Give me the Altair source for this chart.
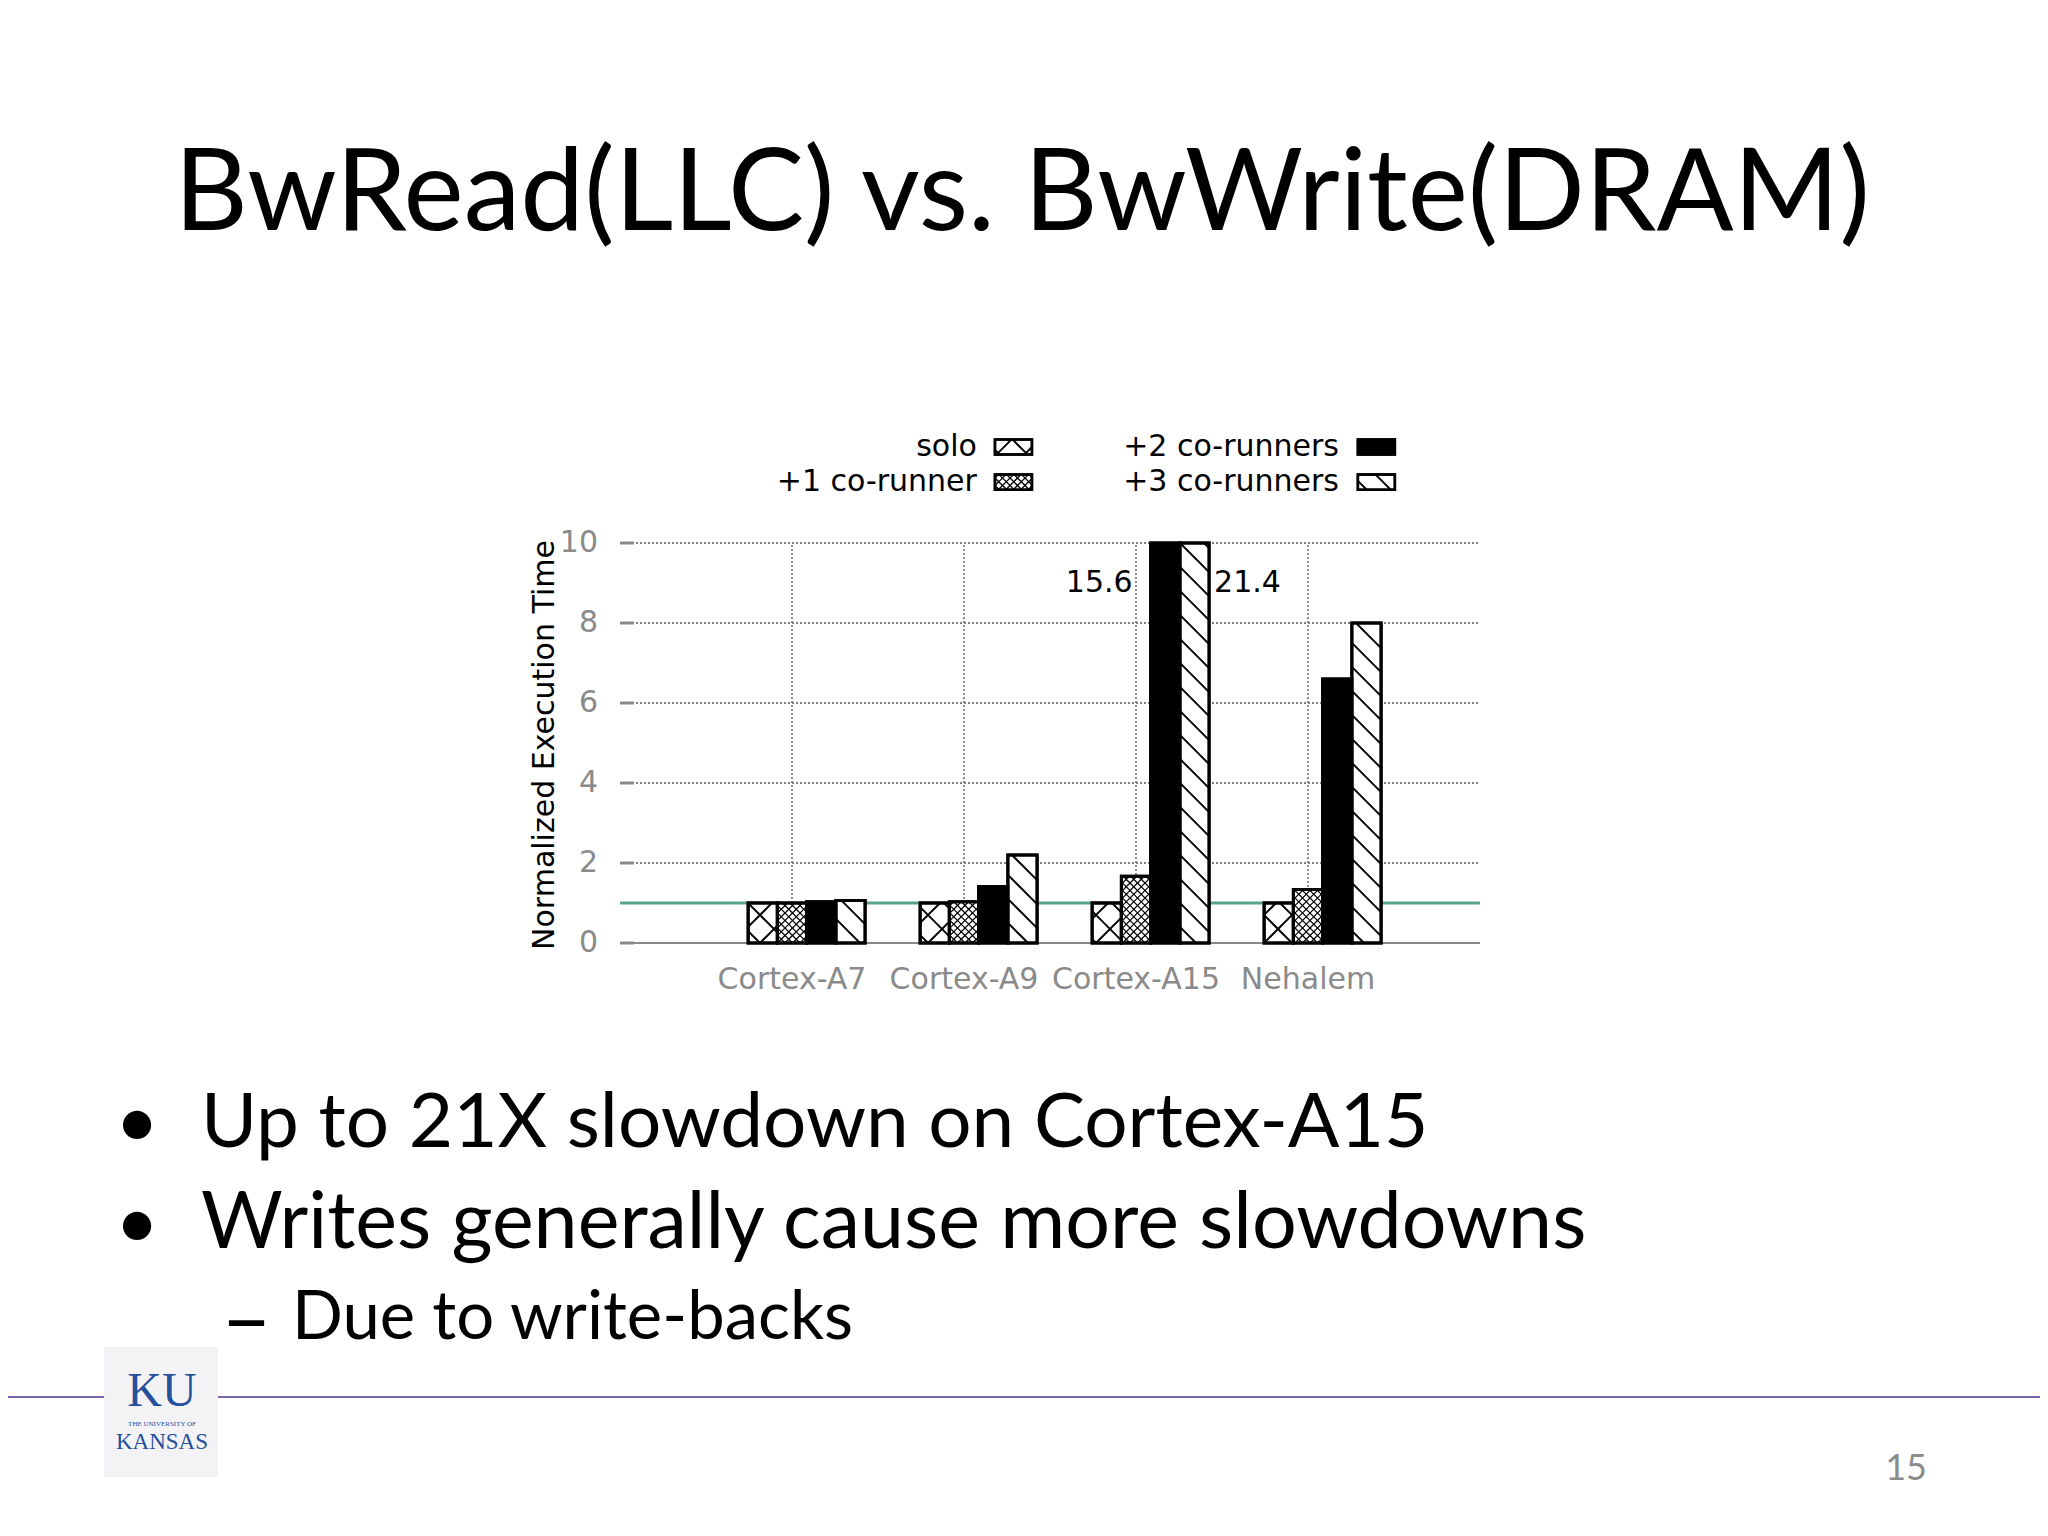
import math
import altair as alt
import pandas as pd

# ---------------- data ----------------
CATEGORIES = ["Cortex-A7", "Cortex-A9", "Cortex-A15", "Nehalem"]
SERIES = ["solo", "+1 co-runner", "+2 co-runners", "+3 co-runners"]
SOLO = [1.0, 1.0, 1.0, 1.0]
CO_RUNNER_1 = [1.0, 1.03, 1.67, 1.34]
CO_RUNNERS_2 = [1.03, 1.41, 15.6, 6.6]
CO_RUNNERS_3 = [1.06, 2.2, 21.4, 8.0]
Y_TICKS = [0, 2, 4, 6, 8, 10]
BASELINE = [1.0]
Y_TITLE = "Normalized Execution Time"

TITLE = "BwRead(LLC) vs. BwWrite(DRAM)"
BULLETS = ["Up to 21X slowdown on Cortex-A15", "Writes generally cause more slowdowns"]
SUB_BULLET = "Due to write-backs"
PAGE_NUMBER = "15"
LOGO_TOP = "KU"
LOGO_MID = "THE UNIVERSITY OF"
LOGO_BOTTOM = "KANSAS"

# ---------------- layout ----------------
W, H = 2032, 1505                 # whole canvas
PAD_L, PAD_T = 612, 535           # plot area origin inside the canvas
PLOT_W, PLOT_H = 860, 400
PAD_R = W - PAD_L - PLOT_W
PAD_B = H - PAD_T - PLOT_H
X_DOMAIN = [0, 5]
Y_DOMAIN = [0, 10]
PX_X = PLOT_W / (X_DOMAIN[1] - X_DOMAIN[0])
PX_Y = PLOT_H / (Y_DOMAIN[1] - Y_DOMAIN[0])
BAR_W = 0.17
FILLS = ["white", "white", "black", "white"]
# (slope, spacing px, line width)
PATTERNS = {
    "solo": [(1, 28, 2.0), (-1, 28, 2.0)],
    "+1 co-runner": [(1, 7.5, 1.3), (-1, 7.5, 1.3)],
    "+2 co-runners": [],
    "+3 co-runners": [(-1, 24, 2.0)],
}
CHART_FONT = "DejaVu Sans"
CHART_FS = 30
SLIDE_FONT = "Lato"
GRAY = "#8a8a8a"
GRID = "#808080"

XS = alt.Scale(domain=X_DOMAIN, nice=False, zero=False)
YS = alt.Scale(domain=Y_DOMAIN, nice=False, zero=False)


def hatch(xa, xb, ya, yb, specs, series):
    Xa, Xb = xa * PX_X, xb * PX_X
    Ya, Yb = ya * PX_Y, yb * PX_Y
    out = []
    for s, step, width in specs:
        if s == 1:
            cmin, cmax = Ya - Xb, Yb - Xa
        else:
            cmin, cmax = Ya + Xa, Yb + Xb
        for k in range(math.ceil(cmin / step), math.floor(cmax / step) + 1):
            c = k * step
            if s == 1:
                lo, hi = max(Xa, Ya - c), min(Xb, Yb - c)
            else:
                lo, hi = max(Xa, c - Yb), min(Xb, c - Ya)
            if hi - lo > 0.8:
                out.append(dict(x=lo / PX_X, y=(s * lo + c) / PX_Y,
                                x2=hi / PX_X, y2=(s * hi + c) / PX_Y,
                                w=width, series=series))
    return out


# bars
values = [SOLO, CO_RUNNER_1, CO_RUNNERS_2, CO_RUNNERS_3]
bar_rows, hatch_rows = [], []
for ci, cat in enumerate(CATEGORIES):
    pos = ci + 1
    for si, s in enumerate(SERIES):
        v = values[si][ci]
        x0 = pos + (si - 1.5) * BAR_W
        x1 = x0 + BAR_W
        top = min(v, Y_DOMAIN[1])
        bar_rows.append(dict(category=cat, series=s, value=v, x0=x0, x1=x1, y0=0.0, y1=top))
        hatch_rows += hatch(x0, x1, 0.0, top, PATTERNS[s], s)
bars = pd.DataFrame(bar_rows)
hatches = pd.DataFrame(hatch_rows)

# labels for clipped bars
clipped = bars[bars["value"] > Y_DOMAIN[1]].reset_index(drop=True)
LABEL_Y = 9.0
lab_left = clipped.iloc[[0]].assign(lx=lambda d: d["x0"], ly=LABEL_Y,
                                    txt=lambda d: d["value"].map(lambda v: f"{v:.1f}"))
lab_right = clipped.iloc[1:].assign(lx=lambda d: d["x1"], ly=LABEL_Y,
                                    txt=lambda d: d["value"].map(lambda v: f"{v:.1f}"))

# legend (above the plot, in data units of the same scales)
LEG_ROW_Y = [12.4, 11.52]
LEG_SW_X = [(2.18, 2.395), (4.29, 4.505)]
LEG_TXT_X = [2.075, 4.18]
LEG_SW_H = 0.38
leg_rows, leg_hatch = [], []
for i, s in enumerate(SERIES):
    col, row = i // 2, i % 2
    xa, xb = LEG_SW_X[col]
    yc = LEG_ROW_Y[row]
    ya, yb = yc - LEG_SW_H / 2, yc + LEG_SW_H / 2
    leg_rows.append(dict(series=s, x0=xa, x1=xb, y0=ya, y1=yb, tx=LEG_TXT_X[col], ty=yc))
    leg_hatch += hatch(xa, xb, ya, yb, PATTERNS[s], s)
legend = pd.DataFrame(leg_rows)
legend_hatch = pd.DataFrame(leg_hatch)

# axis pieces
positions = list(range(1, len(CATEGORIES) + 1))
hgrid = pd.DataFrame({"y": Y_TICKS[1:], "xa": X_DOMAIN[0], "xb": X_DOMAIN[1]})
vgrid = pd.DataFrame({"x": positions, "ya": Y_DOMAIN[0], "yb": Y_DOMAIN[1]})
yticks = pd.DataFrame({"y": Y_TICKS, "xa": X_DOMAIN[0], "xb": X_DOMAIN[0] + 0.08,
                       "lab": [str(t) for t in Y_TICKS]})
xlabels = pd.DataFrame({"x": positions, "y": Y_DOMAIN[0], "lab": CATEGORIES})
xdomain = pd.DataFrame({"y": [Y_DOMAIN[0]], "xa": [X_DOMAIN[0]], "xb": [X_DOMAIN[1]]})
base = pd.DataFrame({"y": BASELINE, "xa": X_DOMAIN[0], "xb": X_DOMAIN[1]})
ONE = pd.DataFrame({"k": [0]})


def X(f):
    return alt.X(f, scale=XS, axis=None)


def Y(f):
    return alt.Y(f, scale=YS, axis=None)


fill_enc = alt.Fill("series:N", scale=alt.Scale(domain=SERIES, range=FILLS), legend=None)

layers = []

# grid
layers.append(alt.Chart(hgrid).mark_rule(color=GRID, strokeWidth=1.8, strokeDash=[2, 2]).encode(
    x=X("xa:Q"), x2="xb:Q", y=Y("y:Q")))
layers.append(alt.Chart(vgrid).mark_rule(color=GRID, strokeWidth=1.8, strokeDash=[2, 2]).encode(
    x=X("x:Q"), y=Y("ya:Q"), y2="yb:Q"))
layers.append(alt.Chart(yticks).mark_rule(color="#888888", strokeWidth=3).encode(
    x=X("xa:Q"), x2="xb:Q", y=Y("y:Q")))
layers.append(alt.Chart(xdomain).mark_rule(color="#888888", strokeWidth=2).encode(
    x=X("xa:Q"), x2="xb:Q", y=Y("y:Q")))
# tick labels and axis title
layers.append(alt.Chart(yticks).mark_text(align="right", baseline="middle", dx=-22,
                                          font=CHART_FONT, fontSize=CHART_FS, color=GRAY).encode(
    x=X("xa:Q"), y=Y("y:Q"), text="lab:N"))
layers.append(alt.Chart(xlabels).mark_text(align="center", baseline="alphabetic", dy=46,
                                           font=CHART_FONT, fontSize=CHART_FS, color=GRAY).encode(
    x=X("x:Q"), y=Y("y:Q"), text="lab:N"))
layers.append(alt.Chart(ONE).mark_text(text=Y_TITLE, angle=270, align="center", baseline="alphabetic",
                                       font=CHART_FONT, fontSize=CHART_FS, color="black").encode(
    x=alt.value(546 - PAD_L), y=alt.value(737 - PAD_T)))

# reference line at 1
layers.append(alt.Chart(base).mark_rule(color="#5aa38f", strokeWidth=3).encode(
    x=X("xa:Q"), x2="xb:Q", y=Y("y:Q")))

# bars
layers.append(alt.Chart(bars).mark_rect(stroke="black", strokeWidth=3).encode(
    x=X("x0:Q"), x2="x1:Q", y=Y("y0:Q"), y2="y1:Q", fill=fill_enc))
layers.append(alt.Chart(hatches).mark_rule(color="black", strokeCap="butt").encode(
    x=X("x:Q"), y=Y("y:Q"), x2="x2:Q", y2="y2:Q",
    strokeWidth=alt.StrokeWidth("w:Q", scale=None)))
layers.append(alt.Chart(bars).mark_rect(stroke="black", strokeWidth=3, fillOpacity=0).encode(
    x=X("x0:Q"), x2="x1:Q", y=Y("y0:Q"), y2="y1:Q"))

# value labels for clipped bars
layers.append(alt.Chart(lab_left).mark_text(align="right", baseline="middle", dx=-18,
                                            font=CHART_FONT, fontSize=CHART_FS, color="black").encode(
    x=X("lx:Q"), y=Y("ly:Q"), text="txt:N"))
layers.append(alt.Chart(lab_right).mark_text(align="left", baseline="middle", dx=5,
                                             font=CHART_FONT, fontSize=CHART_FS, color="black").encode(
    x=X("lx:Q"), y=Y("ly:Q"), text="txt:N"))

# legend
layers.append(alt.Chart(legend).mark_rect(stroke="black", strokeWidth=2.5).encode(
    x=X("x0:Q"), x2="x1:Q", y=Y("y0:Q"), y2="y1:Q", fill=fill_enc))
layers.append(alt.Chart(legend_hatch).mark_rule(color="black", strokeCap="butt").encode(
    x=X("x:Q"), y=Y("y:Q"), x2="x2:Q", y2="y2:Q",
    strokeWidth=alt.StrokeWidth("w:Q", scale=None)))
layers.append(alt.Chart(legend).mark_rect(stroke="black", strokeWidth=2.5, fillOpacity=0).encode(
    x=X("x0:Q"), x2="x1:Q", y=Y("y0:Q"), y2="y1:Q"))
layers.append(alt.Chart(legend).mark_text(align="right", baseline="middle", font=CHART_FONT,
                                          fontSize=CHART_FS, color="black").encode(
    x=X("tx:Q"), y=Y("ty:Q"), text="series:N"))


# slide elements, positioned in canvas pixels (converted to plot-area pixels)
def slide_text(txt, x, y, size, align="left", color="black", font=SLIDE_FONT, weight="normal"):
    return alt.Chart(ONE).mark_text(text=txt, align=align, baseline="alphabetic", font=font,
                                    fontSize=size, color=color, fontWeight=weight).encode(
        x=alt.value(x - PAD_L), y=alt.value(y - PAD_T))


def slide_rule(x, x2, y, color, width):
    return alt.Chart(ONE).mark_rule(color=color, strokeWidth=width).encode(
        x=alt.value(x - PAD_L), x2=alt.value(x2 - PAD_L), y=alt.value(y - PAD_T))


layers.append(slide_text(TITLE, 1014, 222, 114, align="center"))
layers.append(slide_text("•", 129, 1139, 76, align="center"))
layers.append(slide_text(BULLETS[0], 193, 1139, 76.5))
layers.append(slide_text("•", 129, 1240, 76, align="center"))
layers.append(slide_text(BULLETS[1], 193, 1240, 79))
layers.append(slide_text("–", 213, 1341, 88))
layers.append(slide_text(SUB_BULLET, 284, 1331, 67))
layers.append(slide_text(PAGE_NUMBER, 1898, 1472, 36, align="center", color="#8c8c8c"))

# footer line and logo
layers.append(slide_rule(0, 97, 1389, "#7b66ac", 2))
layers.append(slide_rule(210, W, 1389, "#7b66ac", 2))
layers.append(alt.Chart(ONE).mark_rect(color="#f3f3f5").encode(
    x=alt.value(96 - PAD_L), x2=alt.value(210 - PAD_L),
    y=alt.value(1339 - PAD_T), y2=alt.value(1469 - PAD_T)))
layers.append(slide_text(LOGO_TOP, 154, 1398, 48, align="center", color="#24509c",
                         font="Liberation Serif"))
layers.append(slide_text(LOGO_MID, 154, 1418, 7, align="center", color="#24509c",
                         font="Liberation Serif"))
layers.append(slide_text(LOGO_BOTTOM, 154, 1441, 23, align="center", color="#24509c",
                         font="Liberation Serif"))

chart = alt.layer(*layers).properties(
    width=PLOT_W, height=PLOT_H, background="white",
    padding={"left": PAD_L, "top": PAD_T, "right": PAD_R, "bottom": PAD_B},
    autosize=alt.AutoSizeParams(type="none"),
).configure_view(strokeWidth=0, strokeOpacity=0)

chart.save("out.html", embed_options={"renderer": "svg", "actions": False})
